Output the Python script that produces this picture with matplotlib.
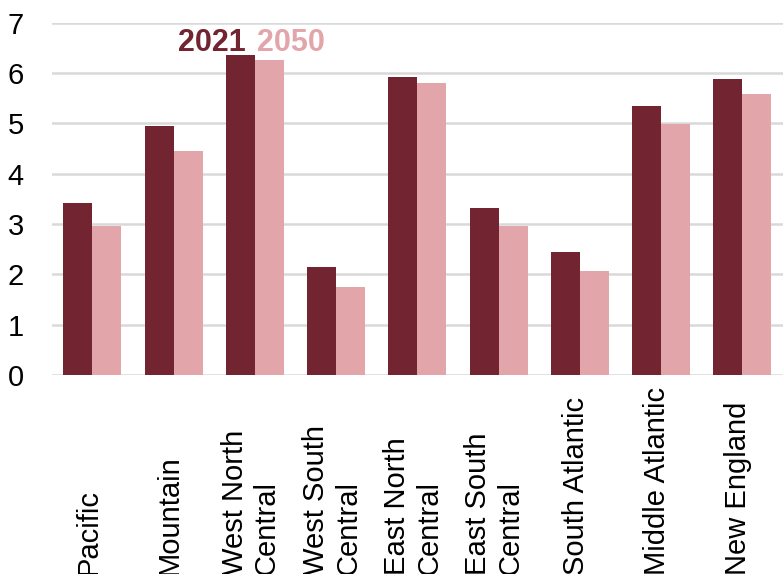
import numpy as np
import matplotlib.pyplot as plt
import matplotlib.transforms as mtransforms

# Datos por región
regiones = ["Pacific", "Mountain", "West North\nCentral", "West South\nCentral",
            "East North\nCentral", "East South\nCentral", "South Atlantic",
            "Middle Atlantic", "New England"]
valores_2021 = [3.42, 4.95, 6.35, 2.14, 5.92, 3.31, 2.44, 5.35, 5.89]
valores_2050 = [2.96, 4.45, 6.25, 1.75, 5.80, 2.96, 2.06, 4.99, 5.59]

COLOR_2021 = "#722530"
COLOR_2050 = "#E2A5AA"

plt.rcParams['font.family'] = ['Liberation Sans', 'DejaVu Sans']

fig = plt.figure(figsize=(7.83, 5.74), dpi=100)
ax = fig.add_axes([0.066, 0.3467, 0.934, 0.6138])

x = np.arange(len(regiones))
ancho = 0.357
ax.bar(x - ancho / 2, valores_2021, ancho, color=COLOR_2021, zorder=3)
ax.bar(x + ancho / 2, valores_2050, ancho, color=COLOR_2050, zorder=3)

ax.set_xlim(-0.5, len(regiones) - 0.5)
ax.set_ylim(0, 7)
ax.set_yticks(range(0, 8))
ax.yaxis.grid(True, color="#d9d9d9", linewidth=1.8, zorder=0)
ax.tick_params(axis='y', length=0, pad=20, labelsize=21)
ax.set_xticks([])
for s in ax.spines.values():
    s.set_visible(False)

# Etiquetas de región verticales, alineadas abajo
trans = mtransforms.blended_transform_factory(ax.transData, fig.transFigure)
for i, nombre in enumerate(regiones):
    ax.text(i - 0.05, -0.002, nombre, transform=trans, rotation=90, ha='center', va='bottom',
            multialignment='left', fontsize=21, linespacing=1.2, clip_on=False)

# Leyenda como texto
fig.text(178 / 783, 1 - 51 / 574, "2021", color=COLOR_2021, fontsize=22,
         fontweight='bold', va='baseline')
fig.text(257 / 783, 1 - 51 / 574, "2050", color=COLOR_2050, fontsize=22,
         fontweight='bold', va='baseline')

fig.savefig("out.png", dpi=100)
